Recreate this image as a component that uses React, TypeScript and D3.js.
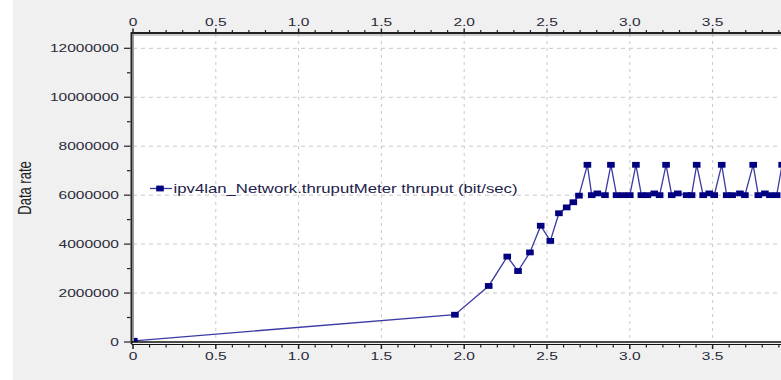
import React from 'react';
import * as d3 from 'd3';

// time (sec) and thruput (bit/sec)
const times = [
  0.005, 1.944, 2.148, 2.26, 2.325, 2.397, 2.462, 2.52, 2.572, 2.619, 2.659, 2.693,
  2.744, 2.77, 2.804, 2.85, 2.886, 2.92, 2.96, 3.0, 3.037, 3.07, 3.106, 3.148, 3.18,
  3.219, 3.253, 3.29, 3.343, 3.373, 3.404, 3.443, 3.48, 3.51, 3.555, 3.585, 3.618,
  3.665, 3.695, 3.745, 3.776, 3.816, 3.846, 3.887, 3.92,
];
const rates = [
  50000, 1115000, 2290000, 3490000, 2900000, 3660000, 4750000, 4130000, 5260000, 5500000, 5710000, 5980000,
  7240000, 6000000, 6070000, 6000000, 7240000, 6000000, 6000000, 6000000, 7240000, 6000000, 6000000, 6070000, 6000000,
  7240000, 6000000, 6070000, 6000000, 6000000, 7240000, 6000000, 6070000, 6000000, 7240000, 6000000, 6000000,
  6070000, 6000000, 7240000, 6000000, 6070000, 6000000, 6000000, 7240000,
];
const xTicks = [0, 0.5, 1.0, 1.5, 2.0, 2.5, 3.0, 3.5];
const xTickLabels = ['0', '0.5', '1.0', '1.5', '2.0', '2.5', '3.0', '3.5'];
const yTicks = [0, 2000000, 4000000, 6000000, 8000000, 10000000, 12000000];
const seriesName = 'ipv4lan_Network.thruputMeter thruput (bit/sec)';
const yTitle = 'Data rate';

const W = 781;
const H = 380;
const left = 133;
const top = 34;
const bottom = 342;
const sx = 1.35; // text is drawn a little stretched sideways

export default function App() {
  const x = d3.scaleLinear().domain([0, 4]).range([left, left + 4 * 165.6]);
  const y = d3.scaleLinear().domain([0, 12000000]).range([bottom, 48.3]);
  const pts = times.map((t, i) => ({ t, v: rates[i] }));
  const line = d3.line<{ t: number; v: number }>().x(d => x(d.t)).y(d => y(d.v));
  const minorX = d3.range(0, 40).map(i => i / 10);
  const minorY = d3.range(1, 13).map(i => i * 1000000);
  const font = 'Liberation Sans, Arial, sans-serif';
  const lab = (tx: number, ty: number, s: string, anchor: string, fill = '#2a2a3a', size = 11.5) => (
    <text
      transform={`translate(${tx},${ty}) scale(${sx},1)`}
      textAnchor={anchor}
      fontFamily={font}
      fontSize={size}
      fill={fill}
    >
      {s}
    </text>
  );

  return (
    <svg width={W} height={H} style={{ position: 'absolute', left: 0, top: 0 }}>
      <rect x={0} y={0} width={W} height={H} fill="#fff" />
      <rect x={13} y={0} width={W - 13} height={H} fill="#f0f0f0" />
      <rect x={left} y={top} width={W - left} height={bottom - top} fill="#fff" />
      <defs>
        <clipPath id="plot">
          <rect x={left} y={top} width={W - left} height={bottom - top} />
        </clipPath>
      </defs>

      {/* grid */}
      {yTicks.slice(1).map(v => (
        <line key={'gy' + v} x1={left} x2={W} y1={y(v)} y2={y(v)} stroke="#c8c8c8" strokeDasharray="4,4" />
      ))}
      {xTicks.slice(1).map(v => (
        <line key={'gx' + v} x1={x(v)} x2={x(v)} y1={top} y2={bottom} stroke="#c8c8c8" strokeDasharray="3,4" />
      ))}

      {/* series */}
      <g clipPath="url(#plot)">
        <path d={line(pts) || ''} fill="none" stroke="#3a3aa4" strokeWidth={1.3} />
        {pts.map((p, i) => (
          <rect key={i} x={x(p.t) - 3.8} y={y(p.v) - 2.9} width={7.6} height={5.8} fill="#000080" />
        ))}
      </g>

      {/* frame */}
      <line x1={left - 1.5} x2={W} y1={33} y2={33} stroke="#222" strokeWidth={2} />
      <line x1={left} x2={W} y1={35} y2={35} stroke="#999" strokeWidth={1} />
      <line x1={131.5} x2={131.5} y1={32} y2={344} stroke="#222" strokeWidth={2} />
      <line x1={133.5} x2={133.5} y1={34} y2={342} stroke="#999" strokeWidth={1} />
      <line x1={left - 1.5} x2={W} y1={342} y2={342} stroke="#111" strokeWidth={1.5} />
      <line x1={left - 1.5} x2={W} y1={344.5} y2={344.5} stroke="#111" strokeWidth={1} />

      {/* x ticks top and bottom */}
      {minorX.map(v => {
        const major = Math.abs(v * 2 - Math.round(v * 2)) < 1e-6;
        const px = x(v);
        return (
          <g key={'tx' + v}>
            <line x1={px} x2={px} y1={32} y2={major ? 28.5 : 30} stroke="#222" strokeWidth={major ? 1.5 : 1.2} />
            <line x1={px} x2={px} y1={345} y2={major ? 349 : 347.5} stroke="#222" strokeWidth={major ? 1.5 : 1.2} />
          </g>
        );
      })}
      {xTicks.map((v, i) => (
        <g key={'lx' + v}>
          {lab(x(v), 26, xTickLabels[i], 'middle')}
          {lab(x(v), 360, xTickLabels[i], 'middle')}
        </g>
      ))}

      {/* y ticks */}
      {minorY.map(v => {
        const major = v % 2000000 === 0;
        return (
          <line key={'ty' + v} x1={major ? 124 : 127} x2={130.5} y1={y(v)} y2={y(v)} stroke="#222" strokeWidth={1.2} />
        );
      })}
      <line x1={124} x2={130.5} y1={y(0)} y2={y(0)} stroke="#222" strokeWidth={1.2} />
      {yTicks.map(v => (
        <g key={'ly' + v}>{lab(119, y(v) + 4, String(v), 'end')}</g>
      ))}

      {/* y title */}
      <text
        transform={`translate(31,${(top + bottom) / 2}) scale(${sx},1) rotate(-90)`}
        textAnchor="middle"
        fontFamily={font}
        fontSize={13}
        fill="#222"
      >
        {yTitle}
      </text>

      {/* legend */}
      <line x1={150} x2={172} y1={188.5} y2={188.5} stroke="#3a3aa4" strokeWidth={1.3} />
      <rect x={156.2} y={185.6} width={7.6} height={5.8} fill="#000080" />
      {lab(173.5, 192.5, seriesName, 'start', '#22224a', 12.4)}
    </svg>
  );
}
